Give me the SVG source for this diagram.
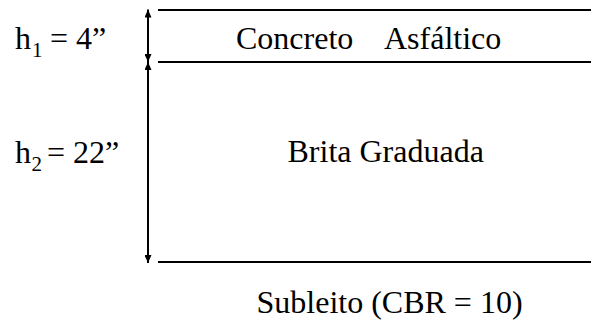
<svg xmlns="http://www.w3.org/2000/svg" width="591" height="329" viewBox="0 0 591 329" font-family="Liberation Serif, DejaVu Serif, serif">
  <style>
    text { font-family: 'Liberation Serif', 'DejaVu Serif', serif; font-size: 32px; fill: #000; }
    .sub { font-size: 21px; }
    .layer { stroke: #000; stroke-width: 2; fill: none; }
    .dim { stroke: #000; stroke-width: 2; fill: none; marker-start: url(#ah); marker-end: url(#ah); }
  </style>
  <defs>
    <marker id="ah" viewBox="0 0 8 7" refX="8" refY="3.5" markerWidth="8" markerHeight="7" markerUnits="userSpaceOnUse" orient="auto-start-reverse">
      <path d="M0,0 L8,3.5 L0,7 z" fill="#000"/>
    </marker>
  </defs>
  <rect width="591" height="329" fill="#fff"/>

  <g id="layer-concreto">
    <line class="layer" x1="158" y1="10" x2="591" y2="10"/>
    <text y="48.5"><tspan x="236">Concreto</tspan><tspan x="384">Asfáltico</tspan></text>
  </g>
  <g id="layer-brita">
    <line class="layer" x1="158" y1="62" x2="591" y2="62"/>
    <text x="287.5" y="162">Brita Graduada</text>
  </g>
  <g id="layer-subleito">
    <line class="layer" x1="158" y1="262" x2="591" y2="262"/>
    <text x="256.5" y="313">Subleito (CBR = 10)</text>
  </g>
  <g id="label-h1">
    <text y="49"><tspan x="15">h</tspan><tspan class="sub" x="32" dy="8">1</tspan><tspan x="50" dy="-8">= 4”</tspan></text>
  </g>
  <g id="label-h2">
    <text y="163"><tspan x="15">h</tspan><tspan class="sub" x="31.5" dy="8">2</tspan><tspan x="47" dy="-8">= 22”</tspan></text>
  </g>

  <g id="connectors">
    <line class="dim" x1="148" y1="9.5" x2="148" y2="62"/>
    <line class="dim" x1="148" y1="62" x2="148" y2="263"/>
  </g>
</svg>
